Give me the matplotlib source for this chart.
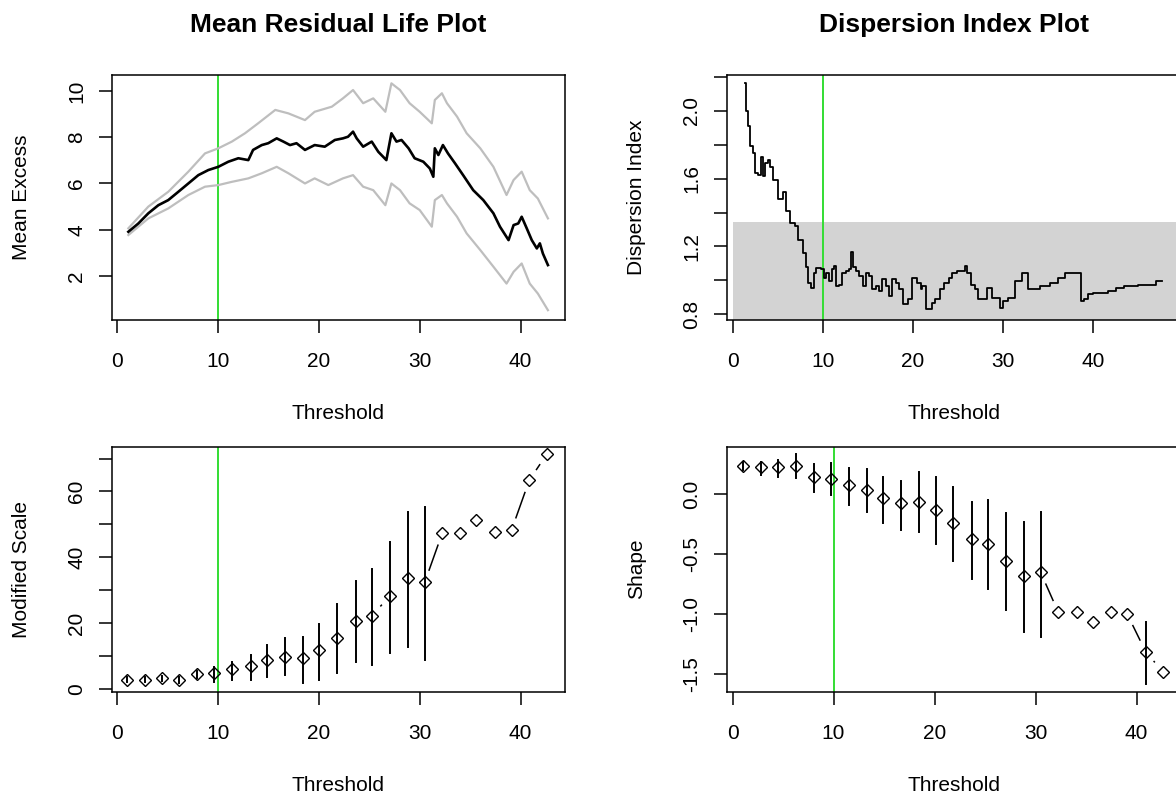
import numpy as np
import matplotlib
matplotlib.use('Agg')
import matplotlib.pyplot as plt

plt.rcParams['font.family'] = ['Liberation Sans', 'DejaVu Sans']

# --- mean residual life ---
mrl_x = [1.15, 2.14, 3.13, 4.12, 5.1, 6.1, 7.09, 8.08, 9.07, 10.06, 11.05, 12.04, 13.03, 13.5,
         14.36, 15.0, 15.84, 16.5, 17.16, 17.8, 18.64, 19.6, 20.6, 21.6, 22.4, 22.9, 23.4, 23.76,
         24.4, 25.25, 25.9, 26.7, 27.2, 27.7, 28.2, 28.9, 29.5, 30.36, 31.0, 31.35, 31.5, 31.85,
         32.3, 32.8, 33.5, 34.3, 35.3, 36.3, 37.3, 37.95, 38.8, 39.3, 39.76, 40.1, 40.6, 41.1,
         41.6, 41.9, 42.2, 42.7]
mrl_mean = [3.91, 4.27, 4.71, 5.06, 5.28, 5.64, 6.0, 6.36, 6.58, 6.72, 6.94, 7.09, 7.01, 7.45,
            7.66, 7.74, 7.95, 7.81, 7.66, 7.74, 7.45, 7.66, 7.59, 7.88, 7.95, 8.02, 8.24, 7.95,
            7.59, 7.81, 7.37, 7.01, 8.17, 7.81, 7.88, 7.52, 7.09, 6.94, 6.65, 6.29, 7.52, 7.23,
            7.66, 7.3, 6.87, 6.36, 5.71, 5.28, 4.71, 4.13, 3.55, 4.2, 4.27, 4.56, 4.06, 3.55,
            3.19, 3.41, 2.97, 2.47]
mrl_up_x = [1.15, 3.13, 5.1, 7.09, 8.74, 10.06, 11.4, 12.7, 14.0, 15.7, 17.0, 18.64, 19.6, 21.3,
            22.4, 23.4, 24.4, 25.4, 26.6, 27.2, 28.05, 29.0, 30.0, 31.2, 31.5, 32.2, 32.7, 33.7,
            34.65, 36.0, 37.3, 38.6, 39.3, 40.1, 40.9, 41.7, 42.7]
mrl_up = [4.06, 5.0, 5.64, 6.51, 7.3, 7.52, 7.81, 8.17, 8.6, 9.18, 9.03, 8.74, 9.1, 9.32,
          9.68, 10.04, 9.47, 9.68, 9.1, 10.33, 10.04, 9.47, 9.1, 8.6, 9.61, 9.9, 9.47, 8.89,
          8.17, 7.52, 6.72, 5.5, 6.15, 6.51, 5.71, 5.35, 4.49]
mrl_lo_x = [1.15, 3.13, 5.1, 7.09, 8.74, 10.06, 11.4, 13.03, 14.36, 15.84, 17.0, 18.64, 19.6, 20.95,
            22.4, 23.4, 24.4, 25.4, 26.6, 27.2, 28.05, 29.0, 30.0, 31.2, 31.5, 32.2, 32.7, 33.7,
            34.65, 36.0, 37.3, 38.6, 39.3, 40.1, 40.9, 41.7, 42.7]
mrl_lo = [3.77, 4.49, 4.92, 5.5, 5.86, 5.93, 6.07, 6.22, 6.44, 6.72, 6.44, 6.0, 6.22, 5.93,
          6.22, 6.36, 5.86, 5.71, 5.06, 6.0, 5.71, 5.14, 4.85, 4.13, 5.28, 5.5, 5.14, 4.56,
          3.84, 3.12, 2.4, 1.67, 2.18, 2.54, 1.67, 1.24, 0.52]

# --- dispersion index (step line) ---
di_x = [1.33, 1.44, 1.7, 1.88, 2.25, 2.43, 2.8, 3.06, 3.35, 3.6, 3.9, 4.16, 4.46, 5.0, 5.5,
        5.86, 6.3, 6.85, 7.2, 7.77, 8.14, 8.3, 8.7, 8.95, 9.25, 9.8, 10.06, 10.35, 10.7, 11.0,
        11.27, 11.45, 11.8, 12.1, 12.56, 12.85, 13.1, 13.37, 13.67, 14.03, 14.4, 14.77, 15.14,
        15.5, 15.9, 16.24, 16.6, 17.0, 17.35, 17.7, 18.1, 18.45, 18.9, 19.4, 19.9, 20.5, 20.85,
        21.0, 21.4, 22.1, 22.5, 23.06, 23.4, 23.98, 24.35, 24.9, 25.46, 25.8, 26.0, 26.4,
        26.9, 27.2, 27.85, 28.2, 28.8, 29.45, 29.7, 30.06, 30.6, 31.35, 32.1, 32.8, 34.1,
        35.2, 36.1, 36.9, 38.7, 39.07, 39.45, 40.0, 41.66, 42.6, 43.5, 45.0, 47.0, 47.7]
di_y = [2.163, 1.996, 1.908, 1.79, 1.75, 1.633, 1.62, 1.73, 1.614, 1.69, 1.71, 1.67, 1.59,
        1.48, 1.52, 1.41, 1.34, 1.32, 1.24, 1.16, 1.08, 0.986, 0.957, 1.045, 1.075, 1.065,
        1.016, 1.045, 0.996, 1.065, 1.084, 0.967, 0.976, 1.045, 1.055, 1.065, 1.17, 1.08,
        1.055, 1.026, 0.967, 1.045, 1.026, 0.947, 0.967, 0.937, 1.006, 0.967, 0.908, 1.006,
        0.986, 0.947, 0.859, 0.888, 1.016, 0.986, 0.947, 0.967, 0.834, 0.869, 0.888, 0.947,
        0.986, 1.016, 1.045, 1.055, 1.055, 1.088, 1.045, 0.976, 0.947, 0.888, 0.888, 0.957,
        0.898, 0.898, 0.84, 0.878, 0.898, 0.996, 1.045, 0.947, 0.967, 0.986, 1.016, 1.045,
        0.878, 0.888, 0.918, 0.928, 0.937, 0.957, 0.967, 0.976, 0.996, 0.996]
di_ci_low = 0.765
di_ci_high = 1.343

# --- threshold choice plot (tcplot) ---
tc_x = [1.05, 2.8, 4.45, 6.2, 7.98, 9.63, 11.45, 13.27, 14.9, 16.67, 18.47, 20.06, 21.84,
        23.66, 25.3, 27.06, 28.87, 30.5, 32.24, 34.0, 35.6, 37.45, 39.1, 40.85, 42.6]
scale = [2.74, 2.74, 3.24, 2.74, 4.45, 4.96, 5.97, 6.99, 8.8, 9.8, 9.3, 11.85, 15.4,
         20.8, 22.3, 28.4, 33.8, 32.4, 47.4, 47.4, 51.4, 47.8, 48.3, 63.4, 71.4]
scale_lo = [2.0, 2.0, 2.4, 1.9, 3.3, 2.2, 2.74, 2.74, 3.75, 4.26, 1.72, 2.74, 4.76,
            8.3, 7.3, 10.8, 12.9, 8.8, None, None, None, None, None, None, None]
scale_hi = [3.5, 3.5, 4.1, 3.6, 5.6, 6.6, 8.3, 10.3, 13.4, 15.4, 15.9, 19.8, 25.8,
            32.9, 36.4, 44.8, 53.9, 55.4, None, None, None, None, None, None, None]
shape_x = [1.02, 2.84, 4.49, 6.3, 8.08, 9.73, 11.54, 13.3, 14.88, 16.65, 18.47, 20.1, 21.86,
           23.68, 25.3, 27.07, 28.85, 30.5, 32.25, 34.06, 35.7, 37.5, 39.07, 40.9, 42.6]
shape = [0.239, 0.225, 0.225, 0.239, 0.142, 0.128, 0.078, 0.036, -0.033, -0.075, -0.062,
         -0.131, -0.242, -0.376, -0.417, -0.557, -0.682, -0.651, -0.985, -0.985, -1.068,
         -0.985, -0.999, -1.314, -1.481]
shape_lo = [0.203, 0.161, 0.147, 0.134, 0.022, -0.006, -0.089, -0.145, -0.242, -0.298,
            -0.312, -0.417, -0.557, -0.707, -0.793, -0.966, -1.147, -1.189, None, None,
            None, None, None, -1.583, None]
shape_hi = [0.272, 0.267, 0.286, 0.334, 0.25, 0.264, 0.222, 0.211, 0.142, 0.114, 0.184,
            0.142, 0.058, -0.062, -0.048, -0.159, -0.229, -0.145, None, None, None, None,
            None, -1.068, None]

u_chosen = 10

W, H = 1176, 795
fig = plt.figure(figsize=(W / 100, H / 100), dpi=100)


def box(l, t, r, b):
    return [l / W, 1 - b / H, (r - l) / W, (b - t) / H]


ax1 = fig.add_axes(box(111.7, 75, 565, 319.5))
ax2 = fig.add_axes(box(727, 75, 1181, 319.5))
ax3 = fig.add_axes(box(111.7, 446.7, 565, 691.7))
ax4 = fig.add_axes(box(727, 446.7, 1181, 691.7))

FS = 15
GREEN = '#33dd33'


def r_axes(ax, xlim, ylim, yticks, ylabels, ylab, title=None):
    ax.set_xlim(*xlim)
    ax.set_ylim(*ylim)
    for s in ax.spines.values():
        s.set_linewidth(1.1)
    ax.set_xticks([0, 10, 20, 30, 40])
    ax.set_yticks(yticks, labels=ylabels, rotation=90, va='center')
    ax.tick_params(direction='out', length=9.5, width=1.1, labelsize=FS)
    ax.tick_params(axis='x', pad=14)
    ax.tick_params(axis='y', pad=9)
    ax.set_xlabel('Threshold', fontsize=FS)
    ax.xaxis.set_label_coords(0.5, -0.345)
    ax.set_ylabel(ylab, fontsize=FS)
    ax.yaxis.set_label_coords(-0.178, 0.5)
    if title:
        ax.set_title(title, fontsize=19, fontweight='bold', pad=31)
    ax.axvline(u_chosen, color=GREEN, lw=1.4, zorder=1)


def type_b(ax, x, y, gap=13):
    # points joined like R's type = "b": segments stop short of each symbol
    pts = ax.transData.transform(np.column_stack([x, y]))
    inv = ax.transData.inverted()
    for p0, p1 in zip(pts[:-1], pts[1:]):
        d = p1 - p0
        L = np.hypot(*d)
        if L > 2 * gap:
            a = p0 + d / L * gap
            b = p1 - d / L * gap
            seg = inv.transform(np.array([a, b]))
            ax.plot(seg[:, 0], seg[:, 1], color='black', lw=1.1)
    ax.plot(x, y, ls='none', marker='D', ms=5.8, mfc='none', mec='black', mew=1.0)


def ci_bars(ax, x, lo, hi):
    for xi, l, h in zip(x, lo, hi):
        if l is not None:
            ax.plot([xi, xi], [l, h], color='black', lw=1.4)


# mean residual life
r_axes(ax1, (-0.5, 44.39), (0.117, 10.69), [2, 4, 6, 8, 10], ['2', '4', '6', '8', '10'],
       'Mean Excess', 'Mean Residual Life Plot')
ax1.plot(mrl_up_x, mrl_up, color='#bebebe', lw=1.6)
ax1.plot(mrl_lo_x, mrl_lo, color='#bebebe', lw=1.6)
ax1.plot(mrl_x, mrl_mean, color='black', lw=1.9)

# dispersion index
r_axes(ax2, (-0.67, 49.8), (0.77, 2.21), [0.8, 1.0, 1.2, 1.4, 1.6, 1.8, 2.0, 2.2],
       ['0.8', '', '1.2', '', '1.6', '', '2.0', ''], 'Dispersion Index', 'Dispersion Index Plot')
ax2.fill_between([0, 49.8], di_ci_low, di_ci_high, color='#d3d3d3', lw=0, zorder=0)
ax2.plot(di_x, di_y, color='black', lw=1.3, drawstyle='steps-post')

# modified scale
r_axes(ax3, (-0.5, 44.39), (-0.82, 73.6), [0, 10, 20, 30, 40, 50, 60, 70],
       ['0', '', '20', '', '40', '', '60', ''], 'Modified Scale')
ci_bars(ax3, tc_x, scale_lo, scale_hi)
type_b(ax3, tc_x, scale)

# shape
r_axes(ax4, (-0.55, 44.4), (-1.648, 0.397), [-1.5, -1.0, -0.5, 0.0],
       ['-1.5', '-1.0', '-0.5', '0.0'], 'Shape')
ci_bars(ax4, shape_x, shape_lo, shape_hi)
type_b(ax4, shape_x, shape)

fig.savefig('out.png', dpi=100)
